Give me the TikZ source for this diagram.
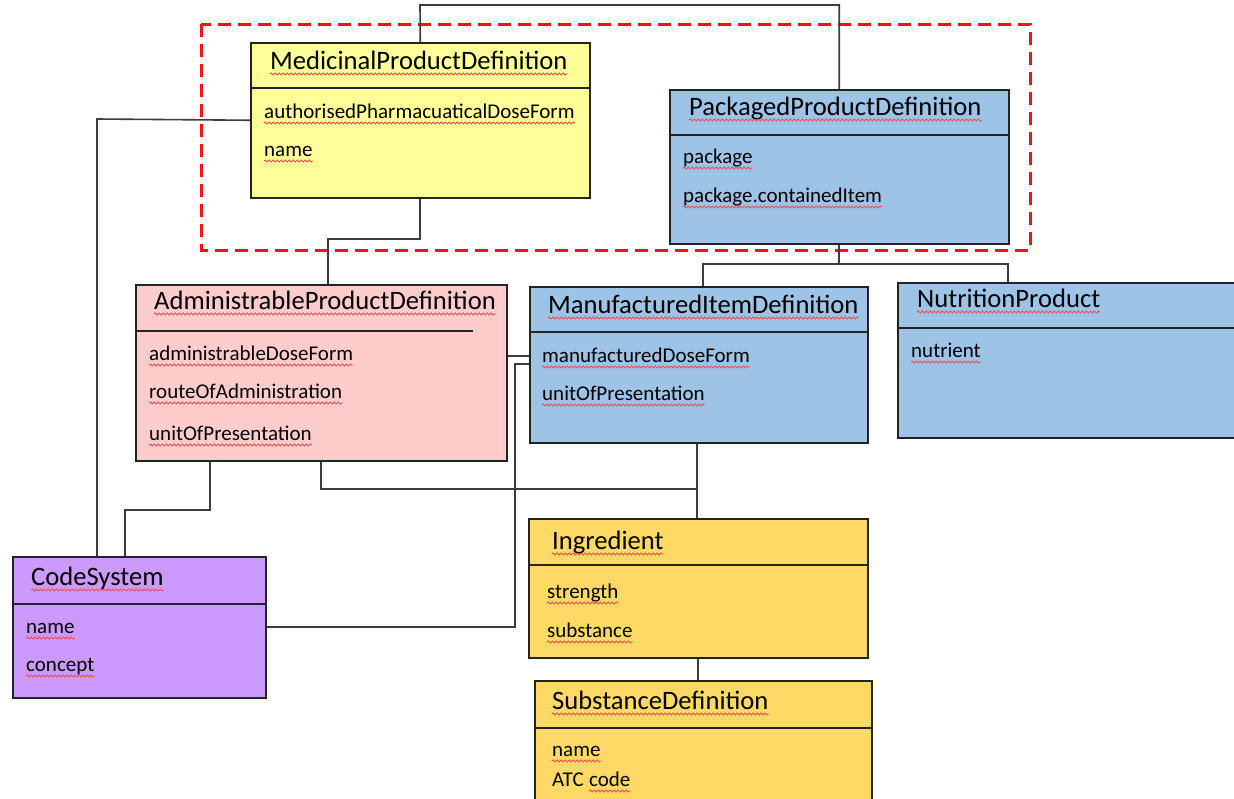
\documentclass[tikz,border=0pt]{standalone}
\usepackage{fontspec}
\setmainfont{Carlito}
\usetikzlibrary{calc,decorations.pathmorphing}

\definecolor{mpdyellow}{RGB}{255,255,153}
\definecolor{pkgblue}{RGB}{157,195,230}
\definecolor{apdpink}{RGB}{255,204,204}
\definecolor{cspurple}{RGB}{204,153,255}
\definecolor{inggold}{RGB}{255,217,102}
\definecolor{linegray}{RGB}{60,60,60}
\definecolor{boxline}{RGB}{35,35,35}
\definecolor{squigred}{RGB}{235,80,80}
\definecolor{scopered}{RGB}{240,20,20}

\tikzset{
  classbox/.style={draw=boxline, line width=1.5pt, rectangle, inner sep=0pt, anchor=north west},
  divider/.style={draw=boxline, line width=1.5pt},
  titletext/.style={anchor=base west, inner sep=0pt, font=\fontsize{26.6}{30}\selectfont, text=black},
  attrtext/.style={anchor=base west, inner sep=0pt, font=\fontsize{21}{25}\selectfont, text=black},
  link/.style={draw=linegray, line width=1.6pt},
  squig/.style={draw=squigred, line width=0.9pt, decorate,
    decoration={snake, segment length=4pt, amplitude=1pt}},
  scopebox/.style={draw=scopered, line width=3pt, dash pattern=on 13pt off 7pt},
}

% red wavy spell-check underline below a text node
\newcommand\wavy[1]{\draw[squig] ($(#1.base west)+(0,5)$) -- ($(#1.base east)+(0,5)$);}

\begin{document}
\begin{tikzpicture}[x=1pt,y=-1pt]
\useasboundingbox (0,0) rectangle (1234,798);
\clip (0,0) rectangle (1234,798);
\fill[white] (0,0) rectangle (1234,798);

% ---------- class boxes ----------
\node[classbox, fill=mpdyellow, minimum width=339pt, minimum height=155pt] (mpd) at (250,42) {};
\node[classbox, fill=pkgblue,   minimum width=339pt, minimum height=154pt] (ppd) at (669,89) {};
\node[classbox, fill=apdpink,   minimum width=371pt, minimum height=176pt] (apd) at (135,284) {};
\node[classbox, fill=pkgblue,   minimum width=338pt, minimum height=156pt] (mid) at (529,286) {};
\node[classbox, fill=pkgblue,   minimum width=345pt, minimum height=155pt] (np)  at (897,282) {};
\node[classbox, fill=cspurple,  minimum width=253pt, minimum height=141pt] (cs)  at (12,556) {};
\node[classbox, fill=inggold,   minimum width=339pt, minimum height=139pt] (ing) at (528,518) {};
\node[classbox, fill=inggold,   minimum width=337pt, minimum height=130pt] (sd)  at (534,680) {};

% header dividers
\draw[divider] (mpd.west |- 0,88)  -- (mpd.east |- 0,88);
\draw[divider] (ppd.west |- 0,135) -- (ppd.east |- 0,135);
\draw[divider] (apd.west |- 0,331) -- (473,331);
\draw[divider] (mid.west |- 0,332) -- (mid.east |- 0,332);
\draw[divider] (np.west |- 0,328)  -- (np.east |- 0,328);
\draw[divider] (cs.west |- 0,604)  -- (cs.east |- 0,604);
\draw[divider] (ing.west |- 0,565) -- (ing.east |- 0,565);
\draw[divider] (sd.west |- 0,728)  -- (sd.east |- 0,728);

% ---------- scope frame ----------
\draw[scopebox] (201,24) rectangle (1030,250);

% ---------- titles and attributes ----------
\node[titletext] (mpdT) at (270,69) {MedicinalProductDefinition};
\node[attrtext] (mpdA1) at (264,118) {authorisedPharmacuaticalDoseForm};
\node[attrtext] (mpdA2) at (264,156) {name};

\node[titletext] (ppdT) at (689,115) {PackagedProductDefinition};
\node[attrtext] (ppdA1) at (683,163) {package};
\node[attrtext] (ppdA2) at (683,202) {package.containedItem};

\node[titletext] (apdT) at (154,309) {AdministrableProductDefinition};
\node[attrtext] (apdA1) at (149,360) {administrableDoseForm};
\node[attrtext] (apdA2) at (149,398) {routeOfAdministration};
\node[attrtext] (apdA3) at (149,440) {unitOfPresentation};

\node[titletext] (midT) at (548,313) {ManufacturedItemDefinition};
\node[attrtext] (midA1) at (542,362) {manufacturedDoseForm};
\node[attrtext] (midA2) at (542,400) {unitOfPresentation};

\node[titletext] (npT) at (917,307) {NutritionProduct};
\node[attrtext] (npA1) at (911,357) {nutrient};

\node[titletext] (csT) at (31,585) {CodeSystem};
\node[attrtext] (csA1) at (26,633) {name};
\node[attrtext] (csA2) at (26,671) {concept};

\node[titletext] (ingT) at (552,549) {Ingredient};
\node[attrtext] (ingA1) at (547,598) {strength};
\node[attrtext] (ingA2) at (547,637) {substance};

\node[titletext] (sdT) at (552,709) {SubstanceDefinition};
\node[attrtext] (sdA1) at (552,756) {name};
\node[attrtext] (sdA2) at (552,786) {ATC};
\node[attrtext] (sdA3) at ($(sdA2.base east)+(5,0)$) {code};

\foreach \n in {mpdT,mpdA1,mpdA2,ppdT,ppdA1,ppdA2,apdT,apdA1,apdA2,apdA3,
                midT,midA1,midA2,npT,npA1,csT,csA1,csA2,ingT,ingA1,ingA2,
                sdT,sdA1,sdA3}{\wavy{\n}}

% ---------- connectors ----------
\coordinate (jTop) at (420,5);
\coordinate (jA) at (328,239);
\coordinate (jB) at (97,119);
\coordinate (jC) at (210,510);
\coordinate (jD) at (125,510);
\coordinate (jE) at (515,627);
\coordinate (jF) at (515,364);
\coordinate (jG) at (517,356);
\coordinate (jH) at (697,489);
\coordinate (jI) at (703,264);
\coordinate (jJ) at (1008,264);

\draw[link] (mpd.north) -- (jTop) -| (ppd.north);
\draw[link] (mpd.south) |- (jA) -- (jA |- apd.north);
\draw[link] (mpd.west) -- (jB) -- (jB |- cs.north);
\draw[link] (jC |- apd.south) -- (jC) -- (jD) -- (jD |- cs.north);
\draw[link] (jE -| cs.east) -- (jE) -- (jF) -- (jF -| mid.west);
\draw[link] (jG -| apd.east) -- (jG -| mid.west);
\draw[link] (apd.south) |- (jH);
\draw[link] (jH |- mid.south) -- (jH |- ing.north);
\draw[link] (ing.south) -- (ing.south |- sd.north);
\draw[link] (ppd.south) -- (ppd.south |- jI);
\draw[link] (jI |- mid.north) -- (jI) -- (jJ) -- (jJ |- np.north);
\end{tikzpicture}
\end{document}
